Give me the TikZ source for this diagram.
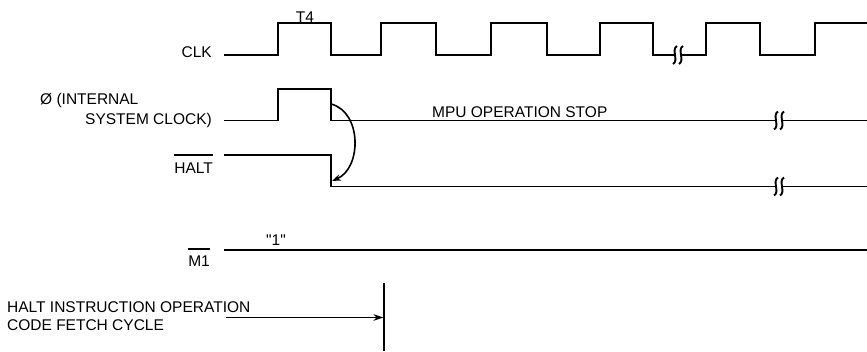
\documentclass[tikz,border=0pt]{standalone}
\usepackage{fontspec}
\setmainfont{Liberation Sans}
\newfontfamily\plainqfont{Liberation Sans}
\usetikzlibrary{arrows.meta}
\tikzset{
  wave/.style={line width=1.9pt, line join=miter},
  lbl/.style={inner sep=0pt, font=\fontsize{15.5}{18}\selectfont},
  ovl/.style={line width=1.5pt},
  brk/.pic={
    \draw[line width=1.9pt] (-1,-9) .. controls (-7,-6) and (1,6) .. (-5,9);
    \draw[line width=1.9pt] (5,-9) .. controls (-1,-6) and (7,6) .. (1,9);
  }
}
\begin{document}
\begin{tikzpicture}[x=1pt,y=-1pt]
\useasboundingbox (0,0) rectangle (867,351);

% labels
\node[lbl, anchor=base] (t4) at (305,22) {T4};
\node[lbl, anchor=base east] (clk) at (212,57) {CLK};
\node[lbl, anchor=base west] (phi1) at (40,104) {Ø (INTERNAL};
\node[lbl, anchor=base east] (phi2) at (212,124) {SYSTEM CLOCK)};
\node[lbl, anchor=base east] (halt) at (213,173) {HALT};
\draw[ovl] ([yshift=7pt]halt.north west) -- ([yshift=7pt]halt.north east);
\node[lbl, anchor=base east] (m1) at (210,266) {M1};
\draw[ovl] ([yshift=6pt]m1.north west) -- ([yshift=6pt]m1.north east);
\node[lbl, anchor=base] (one) at (276,245) {\plainqfont "1"};
\node[lbl, anchor=base west] (mpu) at (432,117) {MPU OPERATION STOP};
\node[lbl, anchor=base west] (hi1) at (7,312.5) {HALT INSTRUCTION OPERATION};
\node[lbl, anchor=base west] (hi2) at (7,330.5) {CODE FETCH CYCLE};

% CLK
\draw[wave] (224,55) -- (278,55) -- (278,23) -- (331,23) -- (331,55)
  -- (381,55) -- (381,23) -- (436,23) -- (436,55)
  -- (491,55) -- (491,23) -- (547,23) -- (547,55)
  -- (600,55) -- (600,23) -- (653,23) -- (653,55) -- (675,55);
\draw[wave] (681,55) -- (706,55) -- (706,23) -- (760,23) -- (760,55)
  -- (815,55) -- (815,23) -- (867,23);
\pic at (678,55) {brk};

% PHI
\coordinate (phifall) at (331,104);
\draw[wave] (224,120.5) -- (278,120.5) -- (278,89) -- (331,89) -- (331,120.5) -- (776,120.5);
\draw[wave] (782,120.5) -- (867,120.5);
\pic at (779,120.5) {brk};

% HALT
\coordinate (haltlow) at (332,181);
\draw[wave] (224,155) -- (331,155) -- (331,186.5) -- (776,186.5);
\draw[wave] (782,186.5) -- (867,186.5);
\pic at (779,186.5) {brk};

% causal arc
\draw[line width=1.6pt, -{Stealth[length=9pt,width=6.5pt]}] (phifall) .. controls (362,112) and (362,168) .. (haltlow);

% M1
\draw[wave] (224,250) -- (867,250);

% HALT instruction marker
\coordinate (vt) at (384,283);
\coordinate (vb) at (384,351);
\coordinate (as) at (226,317.5);
\coordinate (ae) at (383.5,317.5);
\draw[line width=1.7pt] (vt) -- (vb);
\draw[line width=1.5pt, -{Stealth[length=10pt,width=6.5pt]}] (as) -- (ae);
\end{tikzpicture}
\end{document}
